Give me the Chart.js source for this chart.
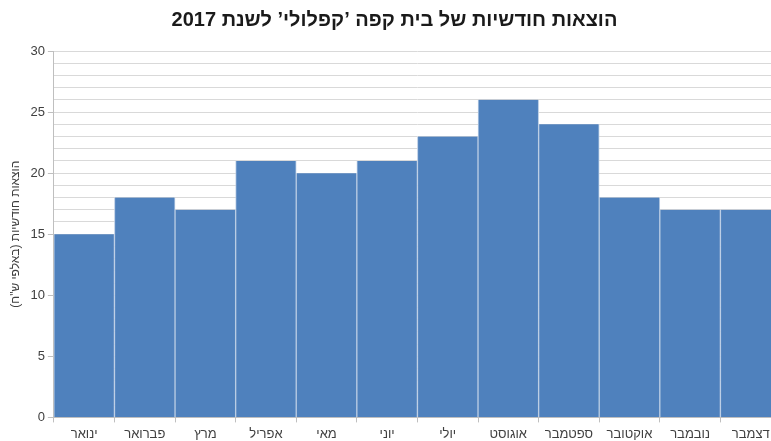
<!DOCTYPE html>
<html lang="he">
<head>
<meta charset="UTF-8">
<title>הוצאות חודשיות</title>
<script src="https://cdn.jsdelivr.net/npm/chart.js"></script>
<style>
    html, body { margin: 0; padding: 0; background: #fff; overflow: hidden; }
    .wrap { width: 781px; height: 441px; position: relative; }
</style>
</head>
<body>
<div class="wrap">
    <canvas id="expenses"></canvas>
</div>
<script>
    // נתוני הגרף
    const months = ['ינואר', 'פברואר', 'מרץ', 'אפריל', 'מאי', 'יוני', 'יולי', 'אוגוסט', 'ספטמבר', 'אוקטובר', 'נובמבר', 'דצמבר'];
    const expenses = [15, 18, 17, 21, 20, 21, 23, 26, 24, 18, 17, 17];
    const chartTitle = 'הוצאות חודשיות של בית קפה \u2019קפלולי\u2019 לשנת 2017';
    const yTitle = 'הוצאות חודשיות (באלפי ש"ח)';

    const font = "'Liberation Sans', Arial, sans-serif";

    new Chart(document.getElementById('expenses'), {
        type: 'bar',
        data: {
            labels: months,
            datasets: [{
                data: expenses,
                backgroundColor: '#4f81bd',
                borderColor: '#b9cce4',
                borderWidth: { left: 1, right: 1, top: 0, bottom: 0 },
                borderSkipped: false,
                categoryPercentage: 1,
                barPercentage: 1
            }]
        },
        options: {
            responsive: true,
            maintainAspectRatio: false,
            animation: false,
            layout: { padding: { left: 8, right: 0, top: 4, bottom: -5 } },
            plugins: {
                legend: { display: false },
                tooltip: { enabled: false },
                title: {
                    display: true,
                    text: chartTitle,
                    color: '#1a1a1a',
                    font: { family: font, size: 20, weight: 'bold' },
                    padding: { top: 4, bottom: 19 }
                }
            },
            scales: {
                x: {
                    grid: {
                        display: true,
                        drawOnChartArea: false,
                        offset: true,
                        color: '#bfbfbf',
                        tickLength: 5
                    },
                    border: { color: '#bfbfbf' },
                    ticks: {
                        color: '#404040',
                        font: { family: font, size: 13 },
                        padding: 4,
                        maxRotation: 0,
                        autoSkip: false
                    }
                },
                y: {
                    min: 0,
                    max: 30,
                    grid: {
                        color: '#d9d9d9',
                        tickLength: 6,
                        tickColor: ctx => (ctx.tick && ctx.tick.value % 5 === 0) ? '#bfbfbf' : 'rgba(0,0,0,0)'
                    },
                    border: { color: '#bfbfbf' },
                    ticks: {
                        stepSize: 1,
                        autoSkip: false,
                        color: '#404040',
                        font: { family: font, size: 13 },
                        padding: 3,
                        callback: v => (v % 5 === 0 ? v : '')
                    },
                    title: {
                        display: true,
                        text: yTitle,
                        color: '#404040',
                        font: { family: font, size: 12 },
                        padding: { top: 0, bottom: 5 }
                    }
                }
            }
        }
    });
</script>
</body>
</html>
